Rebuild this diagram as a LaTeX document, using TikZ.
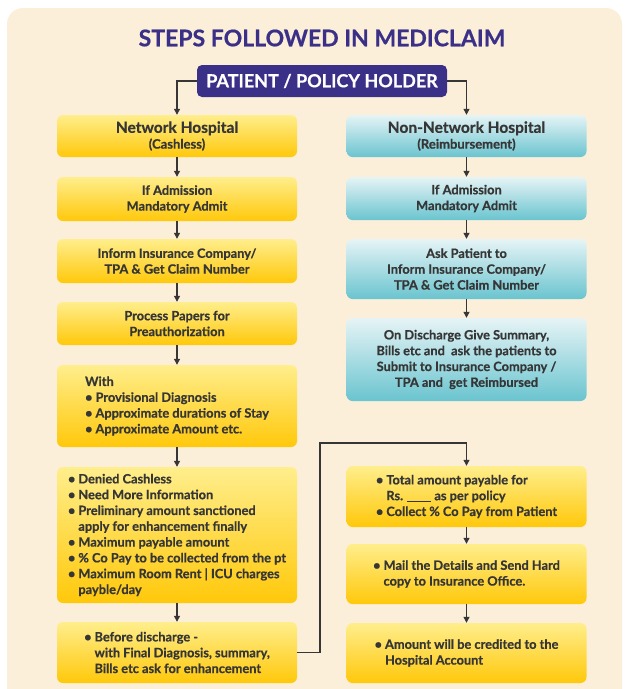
\documentclass[tikz,border=0pt]{standalone}
\usepackage{fontspec}
\setmainfont{Lato}[BoldFeatures={FakeBold=0.6}]
\usepackage{tikz}
\usetikzlibrary{arrows.meta}
\definecolor{cream}{HTML}{FCEFD9}
\definecolor{navy}{HTML}{3B3087}
\definecolor{ink}{HTML}{363636}
\definecolor{ytop}{HTML}{FFEE8C}
\definecolor{ybot}{HTML}{FFC80A}
\definecolor{btop}{HTML}{E6F4F6}
\definecolor{bbot}{HTML}{6AC4CF}
\newcommand{\bul}{\textbullet\hspace{3pt}}
\newcommand{\ind}{\phantom{\textbullet}\hspace{3pt}}

\begin{document}
\begin{tikzpicture}
            [x=1pt,y=-1pt,
             every node/.style={font=\bfseries,text=ink},
             ybox/.style={rounded corners=6pt,top color=ytop,bottom color=ybot,minimum width=240pt,align=center,font=\bfseries\fontsize{12.8}{15.8}\selectfont},
             bbox/.style={rounded corners=6pt,top color=btop,bottom color=bbot,minimum width=240pt,align=center,font=\bfseries\fontsize{12.8}{15.8}\selectfont},
             lbox/.style={ybox,align=left},
             arr/.style={-{Triangle[length=6pt,width=6pt]},line width=1.2pt,draw=ink}]
            \useasboundingbox (0,0) rectangle (627,689);
            \fill[cream,rounded corners=16pt] (7,8) rectangle (622,720);
            \node[text=navy,font=\bfseries\fontsize{23}{27}\selectfont] (title) at (322,38) {STEPS FOLLOWED IN MEDICLAIM};
            \node[fill=navy,text=white,rounded corners=5pt,minimum width=250pt,minimum height=32pt,font=\bfseries\fontsize{18}{21}\selectfont] (patient) at (322,81) {PATIENT / POLICY HOLDER};

            % network hospital side
            \node[ybox,minimum height=42pt] (netw) at (177,136) {{\fontsize{15.5}{17}\selectfont Network Hospital}\\{\fontsize{13}{15}\selectfont (Cashless)}};
            \node[ybox,minimum height=44pt] (ladm) at (177,199) {If Admission\\Mandatory Admit};
            \node[ybox,minimum height=44pt] (linf) at (177,261) {Inform Insurance Company/\\TPA \& Get Claim Number};
            \node[ybox,minimum height=43pt] (lproc) at (177,323.5) {Process Papers for\\Preauthorization};
            \node[lbox,minimum height=82pt] (lwith) at (177,406) {With\\\bul Provisional Diagnosis\\\bul Approximate durations of Stay\\\bul Approximate Amount etc.};
            \node[lbox,minimum height=136pt] (ldeny) at (177,535) {\bul Denied Cashless\\\bul Need More Information\\\bul Preliminary amount sanctioned\\\ind apply for enhancement finally\\\bul Maximum payable amount\\\bul \% Co Pay to be collected from the pt\\\bul Maximum Room Rent | ICU charges\\\ind payble/day};
            \node[lbox,minimum height=61pt] (lbefore) at (177,652.5) {\bul Before discharge -\\\ind with Final Diagnosis, summary,\\\ind Bills etc ask for enhancement};

            % non-network hospital side
            \node[bbox,minimum height=42pt] (nonnet) at (466.5,136) {{\fontsize{15.5}{17}\selectfont Non-Network Hospital}\\{\fontsize{13}{15}\selectfont (Reimbursement)}};
            \node[bbox,minimum height=43pt] (radm) at (466.5,198.5) {If Admission\\Mandatory Admit};
            \node[bbox,minimum height=60pt] (rask) at (466.5,269) {Ask Patient to\\Inform Insurance Company/\\TPA \& Get Claim Number};
            \node[bbox,minimum height=83pt] (rdis) at (466.5,359.5) {On Discharge Give Summary,\\Bills etc and\ \ ask the patients to\\Submit to Insurance Company /\\TPA and\ \ get Reimbursed};

            % settlement
            \node[lbox,minimum height=61pt] (rtotal) at (466.5,496.5) {\bul Total amount payable for\\\ind Rs. \underline{\hspace{24pt}} as per policy\\\bul Collect \% Co Pay from Patient};
            \node[lbox,minimum height=60pt] (rmail) at (466.5,574) {\bul Mail the Details and Send Hard\\\ind copy to Insurance Office.};
            \node[lbox,minimum height=60pt] (rcred) at (466.5,653) {\bul Amount will be credited to the\\\ind Hospital Account};
            \coordinate (jog) at (320,443);

            \draw[arr] (patient.west) -| (netw.north);
            \draw[arr] (patient.east) -| (nonnet.north);
            \draw[arr] (netw) -- (ladm);
            \draw[arr] (ladm) -- (linf);
            \draw[arr] (linf) -- (lproc);
            \draw[arr] (lproc) -- (lwith);
            \draw[arr] (lwith) -- (ldeny);
            \draw[arr] (ldeny) -- (lbefore);
            \draw[arr] (nonnet) -- (radm);
            \draw[arr] (radm) -- (rask);
            \draw[arr] (rask) -- (rdis);
            \draw[arr] (lbefore.east) -| (jog) -| (rtotal.north);
            \draw[arr] (rtotal) -- (rmail);
            \draw[arr] (rmail) -- (rcred);

        \end{tikzpicture}
\end{document}
